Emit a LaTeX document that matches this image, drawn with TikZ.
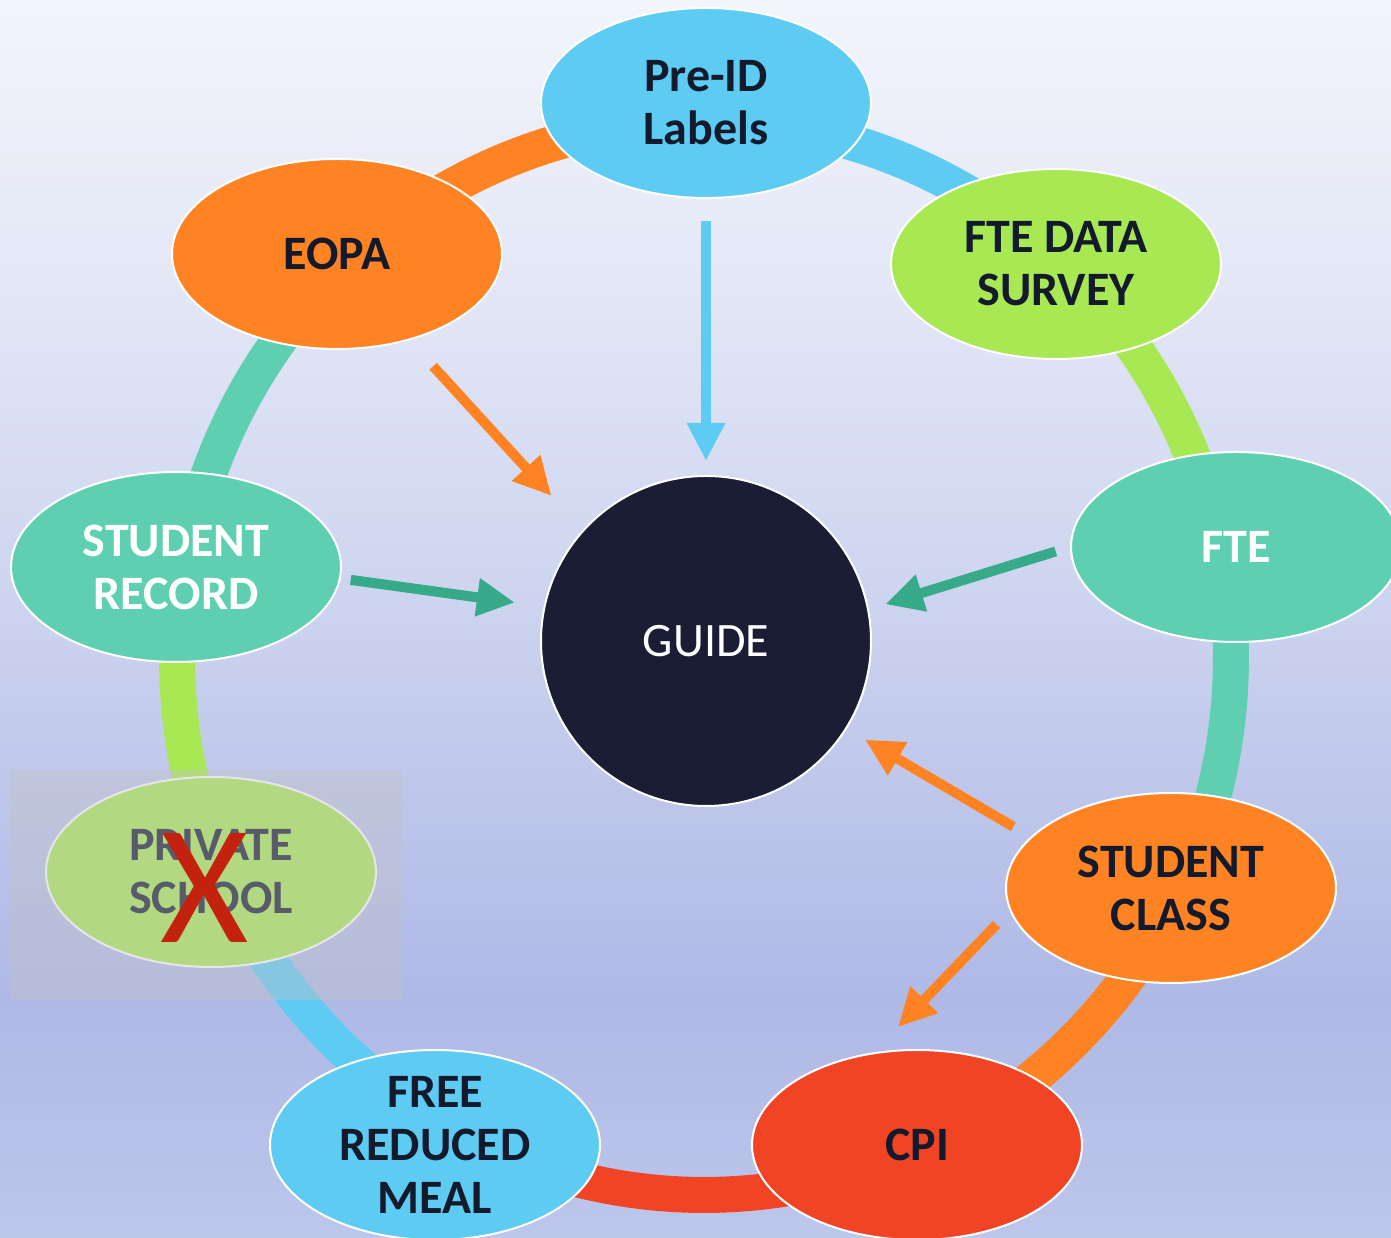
\documentclass[tikz,border=0pt]{standalone}
\usepackage{fontspec}
\setmainfont{Carlito}
\usetikzlibrary{shapes.geometric, arrows.meta, calc}
\definecolor{cblue}{HTML}{5ECBF3}
\definecolor{corange}{HTML}{FF8322}
\definecolor{clime}{HTML}{A8E853}
\definecolor{cteal}{HTML}{5ECFB0}
\definecolor{cred}{HTML}{F04425}
\definecolor{cnavy}{HTML}{1A1D33}
\definecolor{ctext}{HTML}{131A2C}
\definecolor{cteald}{HTML}{36AA89}
\definecolor{cx}{HTML}{C3230E}
\definecolor{cveil}{RGB}{193,193,199}
\definecolor{bgA}{HTML}{BDC6EB}
\definecolor{bgB}{HTML}{AEB9E6}
\definecolor{bgC}{HTML}{CDD4EF}
\definecolor{bgD}{HTML}{E2E6F6}
\definecolor{bgE}{HTML}{F3F5FB}
\begin{document}
\begin{tikzpicture}[x=1pt, y=1pt,
  bub/.style={ellipse, minimum width=330pt, minimum height=190pt, inner sep=-14pt,
    draw=white, line width=2pt, align=center, text=ctext,
    font=\fontsize{48}{53}\selectfont\bfseries},
  ring/.style={line width=36pt},
  arr/.style={line width=10pt, -{Triangle[length=38pt,width=36pt]}},
]
\useasboundingbox (0,0) rectangle (1391,1238);
% background
\shade[bottom color=bgA, top color=bgB] (0,0) rectangle (1391,239);
\shade[bottom color=bgB, top color=bgC] (0,238) rectangle (1391,639);
\shade[bottom color=bgC, top color=bgD] (0,638) rectangle (1391,939);
\shade[bottom color=bgD, top color=bgE] (0,938) rectangle (1391,1238);
% ring
\coordinate (rc) at (704,580);
\foreach \a/\b/\c in {90/47.5/cblue, 47.5/11.3/clime, 11.3/-26.1/cteal, -26.1/-66.1/corange,
  -66.1/-119.2/cred, -119.2/-156.6/cblue, -156.6/-189.4/clime, 170.6/133/cteal, 133/90/corange}
  \draw[ring, \c] ($(rc)+(\a:527 and 537)$) arc[start angle=\a, end angle=\b, x radius=527, y radius=537];
% nodes
\node[bub, fill=cblue] (pre) at (706,1135) {Pre-ID\\Labels};
\node[bub, fill=corange] (eopa) at (337,984) {EOPA};
\node[bub, fill=clime] (fds) at (1056,974) {FTE DATA\\SURVEY};
\node[bub, fill=cteal, text=white] (fte) at (1236,691) {FTE};
\node[bub, fill=cteal, text=white] (sr) at (176,671) {STUDENT\\RECORD};
\node[bub, fill=clime] (priv) at (211,366) {PRIVATE\\SCHOOL};
\node[bub, fill=corange] (sc) at (1171,350) {STUDENT\\CLASS};
\node[bub, fill=cblue] (free) at (435,93) {FREE\\REDUCED\\MEAL};
\node[bub, fill=cred] (cpi) at (917,93) {CPI};
\node[circle, minimum size=330pt, inner sep=0pt, fill=cnavy, draw=white, line width=2pt,
  text=white, font=\fontsize{48}{53}\selectfont] (guide) at (706,597) {GUIDE};
% arrows
\draw[arr, cblue, shorten <=22pt, shorten >=14pt] (pre.south) -- (guide.north);
\draw[arr, corange, shorten <=35pt, shorten >=46pt] (eopa.-50.5) -- (guide.138);
\draw[arr, cteald, shorten <=10pt, shorten >=29pt] (sr.-4) -- (guide.168);
\draw[arr, cteald, shorten <=15pt, shorten >=17pt] (fte.180) -- (guide.11);
\draw[arr, corange, shorten <=20pt, shorten >=21pt] (sc.160.5) -- (guide.-32);
\draw[arr, corange, shorten <=19pt, shorten >=35pt] (sc.188) -- (cpi.115);
% veil over private school
\fill[cveil, opacity=0.4] (10,238) rectangle (402,468);
\node[text=cx, font=\fontsize{170}{170}\selectfont, inner sep=0pt] (xmark) at (205,350) {X};
\end{tikzpicture}
\end{document}
